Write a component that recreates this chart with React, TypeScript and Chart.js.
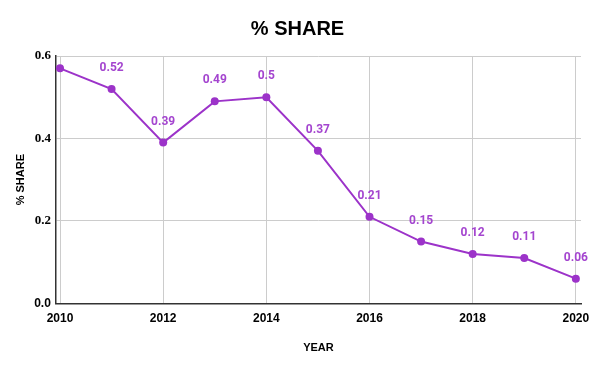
import React, { useEffect, useRef } from "react";
import { Chart, registerables } from "chart.js";

Chart.register(...registerables);

const years = [2010, 2011, 2012, 2013, 2014, 2015, 2016, 2017, 2018, 2019, 2020];
const shares = [0.57, 0.52, 0.39, 0.49, 0.5, 0.37, 0.21, 0.15, 0.12, 0.11, 0.06];
const labelShown = [false, true, true, true, true, true, true, true, true, true, true];
const xTicks = [2010, 2012, 2014, 2016, 2018, 2020];
const yTicks = [0, 0.2, 0.4, 0.6];

const PURPLE = "#9c33c9";
const LABEL = "#a445cf";

const labelPlugin = {
  id: "pointLabels",
  afterDatasetsDraw(chart: any) {
    const ctx = chart.ctx;
    const meta = chart.getDatasetMeta(0);
    ctx.save();
    ctx.font = "bold 12px Roboto, 'Liberation Sans', sans-serif";
    ctx.fillStyle = LABEL;
    ctx.textAlign = "center";
    ctx.textBaseline = "middle";
    meta.data.forEach((pt: any, i: number) => {
      if (!labelShown[i]) return;
      ctx.fillText(String(shares[i]), pt.x, pt.y - 21);
    });
    ctx.restore();
  },
};

export default function App() {
  const ref = useRef<HTMLCanvasElement>(null);
  useEffect(() => {
    document.body.style.margin = "0";
    const chart = new Chart(ref.current!, {
      type: "line",
      data: {
        datasets: [
          {
            data: years.map((y, i) => ({ x: y, y: shares[i] })),
            borderColor: PURPLE,
            backgroundColor: PURPLE,
            borderWidth: 2,
            pointRadius: 4,
            pointBackgroundColor: PURPLE,
            pointBorderWidth: 0,
            tension: 0,
          },
        ],
      },
      options: {
        animation: false,
        responsive: false,
        layout: { padding: { left: 14, right: 19, top: 8, bottom: 16 } },
        plugins: {
          legend: { display: false },
          tooltip: { enabled: false },
          title: {
            display: true,
            text: "% SHARE",
            color: "#000",
            font: { family: "'Liberation Sans', Arial, sans-serif", size: 20, weight: "bold" },
            padding: { top: 9, bottom: 15 },
          },
        },
        scales: {
          x: {
            type: "linear",
            min: 2009.92,
            max: 2020.1,
            afterBuildTicks: (scale: any) => {
              scale.ticks = xTicks.map((v) => ({ value: v }));
            },
            ticks: {
              callback: (v: any) => String(v),
              color: "#000",
              font: { family: "'Liberation Sans', Arial, sans-serif", size: 12, weight: "bold" },
              padding: 8,
              maxRotation: 0,
            },
            grid: { color: "#cccccc", drawTicks: false },
            border: { color: "#333", width: 1.5 },
            title: {
              display: true,
              text: "YEAR",
              color: "#000",
              font: { family: "'Liberation Sans', Arial, sans-serif", size: 11, weight: "bold" },
              padding: { top: 8, bottom: 0 },
            },
          },
          y: {
            min: 0,
            max: 0.6,
            afterBuildTicks: (scale: any) => {
              scale.ticks = yTicks.map((v) => ({ value: v }));
            },
            ticks: {
              callback: (v: any) => Number(v).toFixed(1),
              color: "#000",
              font: (c: any) =>
                c.tick && c.tick.value === 0
                  ? { family: "'Liberation Sans', Arial, sans-serif", size: 12, weight: "bold" }
                  : { family: "'Liberation Serif', serif", size: 13, weight: "bold" },
              padding: 5,
            },
            grid: { color: "#cccccc", drawTicks: false },
            border: { color: "#333", width: 1.5 },
            title: {
              display: true,
              text: "% SHARE",
              color: "#000",
              font: { family: "'Liberation Sans', Arial, sans-serif", size: 11, weight: "bold" },
              padding: { top: 0, bottom: 2 },
            },
          },
        },
      },
      plugins: [labelPlugin],
    } as any);
    return () => chart.destroy();
  }, []);
  return <canvas ref={ref} width={600} height={371} style={{ display: "block" }} />;
}
